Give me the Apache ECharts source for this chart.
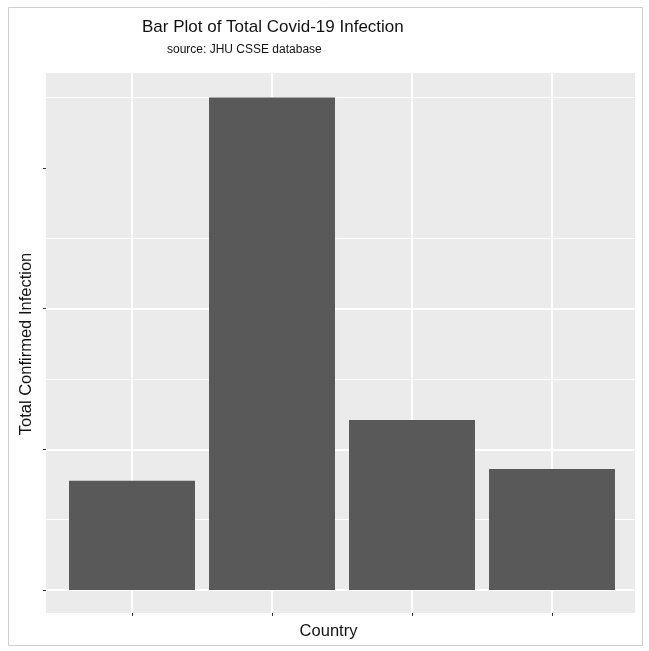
<!DOCTYPE html>
<html>
<head>
<meta charset="utf-8">
<script src="https://cdn.jsdelivr.net/npm/echarts@6/dist/echarts.min.js"></script>
<style>
html,body{margin:0;padding:0;background:#fff;}
#c{width:649px;height:651px;}
</style>
</head>
<body>
<div id="c"></div>
<script>
// Data (tick labels are blank in the original figure)
const countries = ["Country 1", "Country 2", "Country 3", "Country 4"];
const totalConfirmed = [7770000, 35000000, 12090000, 8600000];
const yTicks = [0, 10000000, 20000000, 30000000];
const yMax = 36750000;          // ggplot default 5% expansion above max
const majorStep = 10000000;
const titleText = "Bar Plot of Total Covid-19 Infection";
const subtitleText = "source: JHU CSSE database";
const xTitle = "Country";
const yTitle = "Total Confirmed Infection";

const FONT = "'Liberation Sans', Arial, sans-serif";
const chart = echarts.init(document.getElementById('c'), null, {renderer: 'canvas'});

const hiddenVal = (gi) => ({type: 'value', gridIndex: gi, show: false});

const option = {
  animation: false,
  backgroundColor: '#ffffff',
  grid: [
    // 0: panel background
    {left: 46, right: 14, top: 73, bottom: 38, show: true, backgroundColor: '#EBEBEB', borderWidth: 0},
    // 1: horizontal grid lines, y ticks
    {left: 46, right: 14, top: 73, bottom: 61},
    // 2: vertical grid lines, x ticks
    {left: 132, right: 97, top: 73, bottom: 38},
    // 3: bars
    {left: 62, right: 27, top: 73, bottom: 61}
  ],
  xAxis: [
    hiddenVal(0),
    hiddenVal(1),
    {
      type: 'category', gridIndex: 2, data: countries, boundaryGap: false,
      axisLine: {show: false},
      axisLabel: {show: false},
      axisTick: {show: true, length: 3, lineStyle: {color: '#333', width: 1}},
      splitLine: {show: true, lineStyle: {color: '#ffffff', width: 2}}
    },
    {type: 'category', gridIndex: 3, data: countries, show: false}
  ],
  yAxis: [
    hiddenVal(0),
    {
      type: 'value', gridIndex: 1, min: 0, max: yMax, interval: majorStep,
      axisLine: {show: false},
      axisLabel: {show: false},
      axisTick: {show: true, customValues: yTicks, length: 3, lineStyle: {color: '#333', width: 1}},
      splitLine: {show: true, showMaxLine: false, lineStyle: {color: '#ffffff', width: 2}},
      minorTick: {show: false, splitNumber: 2},
      minorSplitLine: {show: true, lineStyle: {color: '#ffffff', width: 1}}
    },
    hiddenVal(2),
    {type: 'value', gridIndex: 3, min: 0, max: yMax, show: false}
  ],
  series: [{
    type: 'bar',
    xAxisIndex: 3,
    yAxisIndex: 3,
    data: totalConfirmed,
    barWidth: '90%',
    itemStyle: {color: '#595959'},
    z: 5
  }],
  graphic: [
    {type: 'rect', silent: true, z: 100,
     shape: {x: 8.5, y: 7.5, width: 634, height: 638},
     style: {fill: 'none', stroke: '#cfcfcf', lineWidth: 1}},
    {type: 'text', x: 142, y: 27.5, z: 100,
     style: {text: titleText, font: "17px " + FONT, fill: '#111', textAlign: 'left', textVerticalAlign: 'middle'}},
    {type: 'text', x: 167, y: 50, z: 100,
     style: {text: subtitleText, font: "12px " + FONT, fill: '#111', textAlign: 'left', textVerticalAlign: 'middle'}},
    {type: 'text', x: 328.5, y: 631, z: 100,
     style: {text: xTitle, font: "16.5px " + FONT, fill: '#111', textAlign: 'center', textVerticalAlign: 'middle'}},
    {type: 'text', x: 26, y: 344, rotation: Math.PI / 2, z: 100,
     style: {text: yTitle, font: "16.5px " + FONT, fill: '#111', textAlign: 'center', textVerticalAlign: 'middle'}}
  ]
};
chart.setOption(option);
</script>
</body>
</html>
